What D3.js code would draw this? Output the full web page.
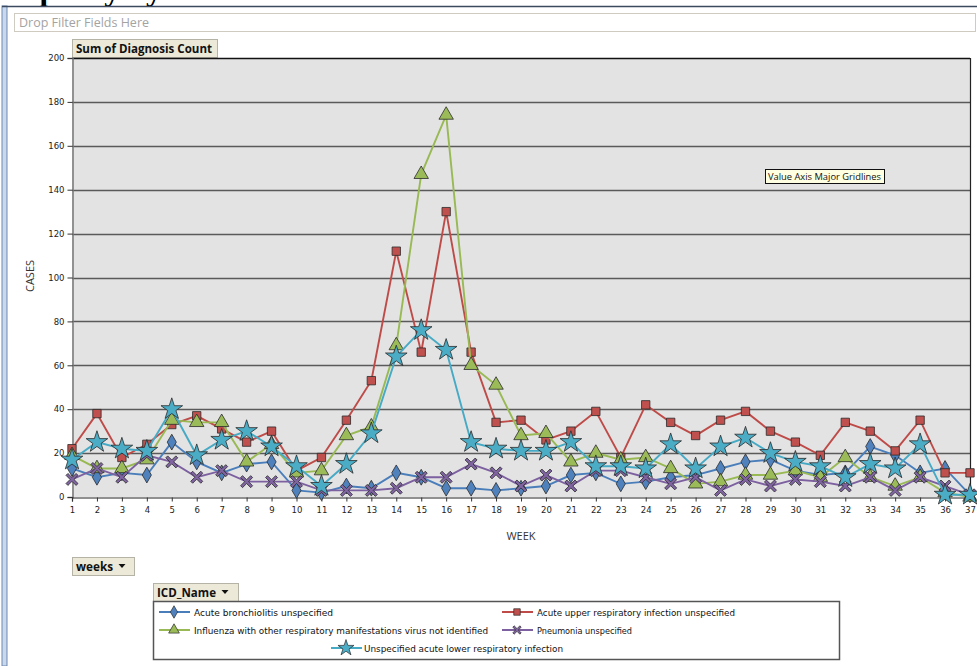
<!DOCTYPE html>
<html><head><meta charset="utf-8">
<script src="https://cdn.jsdelivr.net/npm/d3@7"></script>
<style>body{margin:0;background:#fff;}svg{display:block;}</style>
</head><body>
<svg id="c" width="977" height="666"></svg>
<script>
const weeks = d3.range(1, 38);
const bronchiolitis = [13,9,11,10,25,16,11,15,16,3,2,5,4,11,9,4,4,3,4,5,10,11,6,7,9,10,13,16,17,12,10,11,23,19,11,13,1];
const upperResp = [22,38,18,24,33,37,31,25,30,12,18,35,53,112,66,130,66,34,35,26,30,39,18,42,34,28,35,39,30,25,19,34,30,21,35,11,11];
const influenza = [19,13,13,17,35,34,34,16,24,11,12,28,32,69,147,174,60,51,28,29,16,20,17,18,13,6,7,10,10,12,9,18,9,5,9,2,0];
const pneumonia = [8,13,9,19,16,9,12,7,7,7,3,3,3,4,9,9,15,11,5,10,5,12,12,9,6,9,3,8,5,8,7,5,9,3,9,5,1];
const lowerResp = [17,25,22,21,40,19,26,30,23,14,5,15,29,64,76,67,25,22,21,21,25,14,14,13,24,13,23,27,20,16,14,9,15,13,24,1,1];
const seriesNames = ["Acute bronchiolitis unspecified","Acute upper respiratory infection unspecified","Influenza with other respiratory manifestations virus not identified","Pneumonia unspecified","Unspecified acute lower respiratory infection"];
const seriesValues = [bronchiolitis, upperResp, influenza, pneumonia, lowerResp];
const seriesColors = ["#4a7ebb","#be4b48","#98b954","#7d60a0","#46aac5"];
const markerFills = ["#4f81bd","#c0504d","#9bbb59","#8064a2","#4bacc6"];
const yTicks = d3.range(0, 201, 20);

const svg = d3.select("#c");
const font = "'DejaVu Sans', Verdana, sans-serif";

// top cut title
svg.append("text").attr("x", 5).attr("y", 0).attr("font-family","'Liberation Serif', serif").attr("font-weight","bold").attr("font-size",32).attr("fill","#000").text("Top Day by Week");

// frame
svg.append("rect").attr("x",2).attr("y",6).attr("width",5).attr("height",660).attr("fill","#c9d8ec").attr("stroke","#6d89b3").attr("stroke-width",1);
svg.append("line").attr("x1",2).attr("x2",977).attr("y1",6.5).attr("y2",6.5).attr("stroke","#3c4a60").attr("stroke-width",1.5);

// filter box
svg.append("rect").attr("x",14.5).attr("y",13.5).attr("width",961).attr("height",18).attr("fill","#fff").attr("stroke","#cfcbc0");
svg.append("text").attr("x",19).attr("y",27).attr("font-family","'Open Sans', sans-serif").attr("font-size",12).attr("fill","#a3a3a3").attr("textLength",130).attr("lengthAdjust","spacingAndGlyphs").text("Drop Filter Fields Here");

function button(x, y, w, h, label, arrowX, tl){
  svg.append("rect").attr("x",x+0.5).attr("y",y+0.5).attr("width",w).attr("height",h).attr("fill","#ece9d8").attr("stroke","#b5b2a6");
  svg.append("text").attr("x",x+4).attr("y",y+14).attr("font-family","'Open Sans', sans-serif").attr("font-weight","bold").attr("font-size",12).attr("fill","#111").attr("textLength",tl).attr("lengthAdjust","spacingAndGlyphs").text(label);
  if(arrowX){
    const ax = arrowX, ay = y + 7;
    svg.append("path").attr("d",`M${ax-3.5},${ay}L${ax+3.5},${ay}L${ax},${ay+4}Z`).attr("fill","#111");
  }
}
button(72,39,145,18,"Sum of Diagnosis Count",null,136);

// plot
const x = d3.scalePoint().domain(weeks).range([72, 970]);
const y = d3.scaleLinear().domain([0, 200]).range([497, 58]);

svg.append("rect").attr("x",72).attr("y",58).attr("width",898).attr("height",439).attr("fill","#e3e3e3");
svg.append("g").selectAll("line").data(yTicks.filter(d=>d>0)).join("line")
  .attr("x1",72).attr("x2",970).attr("y1",d=>Math.round(y(d))+0.5).attr("y2",d=>Math.round(y(d))+0.5)
  .attr("stroke",d=>d===200?"#111":"#5a5a5a").attr("stroke-width",1.3);
svg.append("line").attr("x1",970.5).attr("x2",970.5).attr("y1",58).attr("y2",497).attr("stroke","#222").attr("stroke-width",1.2);

const ya = svg.append("g").attr("transform","translate(72.5,0)").call(d3.axisLeft(y).tickValues(yTicks).tickSize(5).tickPadding(3));
ya.select(".domain").attr("stroke","#777").attr("stroke-width",1.5);
ya.selectAll(".tick line").attr("stroke","#333");
ya.selectAll("text").attr("font-family",font).attr("font-size",8.5).attr("fill","#222");

const xa = svg.append("g").attr("transform","translate(0,497.5)").call(d3.axisBottom(x).tickSize(4).tickPadding(5));
xa.select(".domain").attr("stroke","#222").attr("stroke-width",1.2);
xa.selectAll(".tick line").attr("stroke","#333");
xa.selectAll("text").attr("font-family",font).attr("font-size",8.5).attr("fill","#222");

svg.append("text").attr("transform","translate(34,276) rotate(-90)").attr("text-anchor","middle").attr("font-family","'Open Sans', sans-serif").attr("font-size",11).attr("fill","#333").text("CASES");
svg.append("text").attr("x",521).attr("y",540).attr("text-anchor","middle").attr("font-family","'Open Sans', sans-serif").attr("font-size",11).attr("fill","#333").text("WEEK");

// markers
function xPath(s){
  const a = s, t = s*0.32;
  const pts = [[0,-t],[a-t,-a],[a,-a+t],[t,0],[a,a-t],[a-t,a],[0,t],[-a+t,a],[-a,a-t],[-t,0],[-a,-a+t],[-a+t,-a]];
  return "M" + pts.map(p=>p.join(",")).join("L") + "Z";
}
const markerPaths = [
  d3.symbol(d3.symbolDiamond, 72)(),
  d3.symbol(d3.symbolSquare, 70)(),
  d3.symbol(d3.symbolTriangle, 90)(),
  xPath(6),
  d3.symbol(d3.symbolStar, 145)()
];
const legendPaths = [
  d3.symbol(d3.symbolDiamond, 45)(),
  d3.symbol(d3.symbolSquare, 42)(),
  d3.symbol(d3.symbolTriangle, 50)(),
  xPath(4.2),
  d3.symbol(d3.symbolStar, 80)()
];

const line = d3.line().x((d,i)=>x(weeks[i])).y(d=>y(d));
seriesValues.forEach((vals, si) => {
  const g = svg.append("g");
  g.append("path").attr("d", line(vals)).attr("fill","none").attr("stroke",seriesColors[si]).attr("stroke-width",1.9);
  g.selectAll("path.m").data(vals).join("path").attr("class","m")
    .attr("d", markerPaths[si])
    .attr("transform",(d,i)=>`translate(${x(weeks[i])},${y(d)})`)
    .attr("fill", markerFills[si]).attr("stroke","#2b2b2b").attr("stroke-width",0.8);
});

// tooltip
svg.append("rect").attr("x",765.5).attr("y",169.5).attr("width",119).attr("height",14).attr("fill","#ffffe1").attr("stroke","#111");
svg.append("text").attr("x",768).attr("y",180).attr("font-family","'Open Sans', sans-serif").attr("font-size",9.5).attr("fill","#111").attr("textLength",113).attr("lengthAdjust","spacingAndGlyphs").text("Value Axis Major Gridlines");

// buttons
button(72,557,62,18,"weeks",122,37);
button(153,583,85,18,"ICD_Name",225,59);

// legend
svg.append("rect").attr("x",153.5).attr("y",601.5).attr("width",686).attr("height",58).attr("fill","#fff").attr("stroke","#555").attr("stroke-width",1.5);
const legPos = [
  {lx:174, ty:612, tx:194},
  {lx:517, ty:612, tx:537},
  {lx:174, ty:630, tx:194},
  {lx:517, ty:630, tx:537},
  {lx:346, ty:648, tx:364}
];
const legLen = [139, 198, 294, 95, 199];
legPos.forEach((p, i) => {
  svg.append("line").attr("x1",p.lx-15).attr("x2",p.lx+16).attr("y1",p.ty).attr("y2",p.ty).attr("stroke",seriesColors[i]).attr("stroke-width",2);
  svg.append("path").attr("d",legendPaths[i]).attr("transform",`translate(${p.lx},${p.ty})`).attr("fill",markerFills[i]).attr("stroke","#2b2b2b").attr("stroke-width",0.7);
  svg.append("text").attr("x",p.tx).attr("y",p.ty+3.5).attr("font-family",font).attr("font-size",8.5).attr("fill","#111").attr("textLength",legLen[i]).attr("lengthAdjust","spacingAndGlyphs").text(seriesNames[i]);
});
</script>
</body></html>
